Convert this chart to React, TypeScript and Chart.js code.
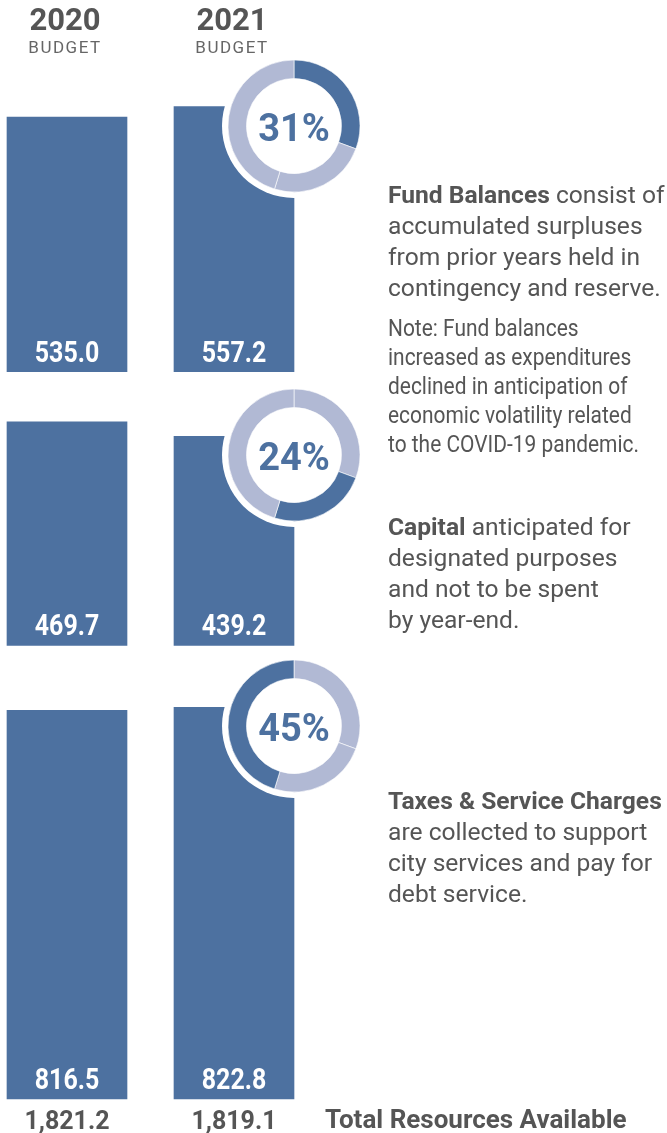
import React, { useEffect, useRef } from "react";
import { Chart, registerables } from "chart.js";

Chart.register(...registerables);

// ---- data ----
const years = ["2020", "2021"];
const rowNames = ["Taxes & Service Charges", "Capital", "Fund Balances"]; // bottom -> top
const taxes = [816.5, 822.8];
const capital = [469.7, 439.2];
const fundBalances = [535.0, 557.2];
const totals = [1821.2, 1819.1];

// ---- layout / style constants ----
const rowGaps = [130, 105]; // gap (value units) above taxes row, above capital row
const BAR = "#4d71a0";
const LIGHT = "#b1b9d4";
const GRAY = "#555555";
const W = 667;
const H = 1133;

const fundText = ["consist of", "accumulated surpluses", "from prior years held in", "contingency and reserve."];
const noteText = ["Note: Fund balances", "increased as expenditures", "declined in anticipation of", "economic volatility related", "to the COVID-19 pandemic."];
const capitalText = ["anticipated for", "designated purposes", "and not to be spent", "by year-end."];
const taxesText = ["are collected to support", "city services and pay for", "debt service."];

const rows = [taxes, capital, fundBalances];

export default function App() {
  const barRef = useRef<HTMLCanvasElement | null>(null);
  const donutWrapRefs = useRef<(HTMLDivElement | null)[]>([]);
  const donutRefs = useRef<(HTMLCanvasElement | null)[]>([]);

  useEffect(() => {
    document.body.style.margin = "0";
    const bases: number[] = [];
    let b = 0;
    rows.forEach((r, i) => {
      bases.push(b);
      b += Math.max(...r) + (rowGaps[i] ?? 0);
    });

    const valueLabels = {
      id: "valueLabels",
      afterDatasetsDraw(chart: any) {
        const ctx = chart.ctx;
        chart.data.datasets.forEach((_ds: any, di: number) => {
          const meta = chart.getDatasetMeta(di);
          meta.data.forEach((el: any, i: number) => {
            const p = el.getProps(["x", "base"], true);
            ctx.save();
            ctx.translate(p.x, p.base - 10);
            ctx.scale(0.86, 1);
            ctx.font = "bold 29px Roboto";
            ctx.fillStyle = "#ffffff";
            ctx.textAlign = "center";
            ctx.textBaseline = "alphabetic";
            ctx.fillText(rows[di][i].toFixed(1), 0, 0);
            ctx.restore();
          });
        });
      },
    };

    const bar = new Chart(barRef.current as HTMLCanvasElement, {
      type: "bar",
      data: {
        labels: years,
        datasets: rows.map((r, i) => ({
          label: rowNames[i],
          data: r.map((v) => [bases[i], bases[i] + v]),
          backgroundColor: BAR,
          borderWidth: 0,
          barThickness: 120,
          grouped: false,
          clip: false as any,
        })) as any,
      },
      options: {
        animation: false,
        responsive: true,
        maintainAspectRatio: false,
        layout: { padding: { top: 4, left: 67, right: W - 234, bottom: 0 } },
        plugins: { legend: { display: false }, tooltip: { enabled: false } },
        scales: {
          x: {
            type: "category",
            offset: false,
            grid: { display: false, drawTicks: false },
            border: { display: false },
            ticks: {
              font: { family: "Roboto", size: 25, weight: "bold" },
              color: GRAY,
              padding: 9,
              maxRotation: 0,
              autoSkip: false,
              callback: (_v: any, idx: number) =>
                totals[idx].toLocaleString("en-US", { minimumFractionDigits: 1, maximumFractionDigits: 1 }),
            },
            afterFit: (scale: any) => {
              scale.height = 34;
            },
          },
          y: { display: false, min: 0, max: 2300 },
        },
      } as any,
      plugins: [valueLabels],
    });

    // donuts positioned from the 2021 bars
    const donuts: Chart[] = [];
    const slices = [fundBalances[1], capital[1], taxes[1]]; // clockwise from top
    const sum = slices.reduce((a, c) => a + c, 0);
    rows.forEach((_r, ri) => {
      const el: any = bar.getDatasetMeta(ri).data[1];
      const cx = el.x + el.width / 2;
      const cy = el.y + 19;
      const wrap = donutWrapRefs.current[ri];
      if (!wrap) return;
      wrap.style.left = cx - 72 + "px";
      wrap.style.top = cy - 72 + "px";
      const hi = 2 - ri; // slice index to highlight
      const pct = Math.round((slices[hi] / sum) * 100);
      const centerText = {
        id: "centerText" + ri,
        afterDraw(chart: any) {
          const ctx = chart.ctx;
          const a = chart.chartArea;
          const x = (a.left + a.right) / 2;
          const y = (a.top + a.bottom) / 2;
          ctx.save();
          ctx.font = "bold 38px Roboto";
          ctx.fillStyle = BAR;
          ctx.textAlign = "center";
          ctx.textBaseline = "alphabetic";
          ctx.fillText(pct + "%", x, y + 15);
          ctx.restore();
        },
      };
      donuts.push(
        new Chart(donutRefs.current[ri] as HTMLCanvasElement, {
          type: "doughnut",
          data: {
            labels: [rowNames[2], rowNames[1], rowNames[0]],
            datasets: [
              {
                data: slices,
                backgroundColor: slices.map((_s, si) => (si === hi ? BAR : LIGHT)),
                borderColor: "rgba(255,255,255,0.6)",
                borderWidth: 1,
              },
            ],
          },
          options: {
            animation: false,
            responsive: false,
            radius: 66,
            cutout: "72%",
            layout: { padding: 0 },
            plugins: { legend: { display: false }, tooltip: { enabled: false } },
          } as any,
          plugins: [centerText],
        })
      );
    });

    return () => {
      donuts.forEach((d) => d.destroy());
      bar.destroy();
    };
  }, []);

  const block: React.CSSProperties = {
    position: "absolute",
    left: 388,
    fontFamily: "Roboto, sans-serif",
    fontSize: 24.6,
    lineHeight: "31px",
    color: GRAY,
    whiteSpace: "nowrap",
  };

  return (
    <div style={{ position: "relative", width: W, height: H, overflow: "hidden", background: "#fff", fontFamily: "Roboto, sans-serif" }}>
      <div style={{ position: "absolute", left: 0, top: 0, width: W, height: H }}>
        <canvas ref={barRef} />
      </div>

      {years.map((y, i) => (
        <div key={y} style={{ position: "absolute", left: (i === 0 ? 65 : 232) - 60, top: 3, width: 120, textAlign: "center", color: GRAY }}>
          <div style={{ fontWeight: 700, fontSize: 31, lineHeight: "34px" }}>{y}</div>
          <div style={{ fontSize: 17, letterSpacing: 1.5, lineHeight: "20px", color: "#666" }}>BUDGET</div>
        </div>
      ))}

      {[0, 1, 2].map((i) => (
        <div
          key={i}
          ref={(d) => {
            donutWrapRefs.current[i] = d;
          }}
          style={{ position: "absolute", width: 144, height: 144, borderRadius: "50%", background: "#fff" }}
        >
          <canvas
            width={144}
            height={144}
            style={{ width: 144, height: 144, display: "block" }}
            ref={(c) => {
              donutRefs.current[i] = c;
            }}
          />
        </div>
      ))}

      <div style={{ ...block, top: 179 }}>
        <div>
          <b>Fund Balances</b> {fundText[0]}
        </div>
        {fundText.slice(1).map((t) => (
          <div key={t}>{t}</div>
        ))}
      </div>

      <div style={{ ...block, top: 314, fontSize: 23, lineHeight: "29px", transform: "scaleX(0.91)", transformOrigin: "left top" }}>
        {noteText.map((t) => (
          <div key={t}>{t}</div>
        ))}
      </div>

      <div style={{ ...block, top: 511 }}>
        <div>
          <b>Capital</b> {capitalText[0]}
        </div>
        {capitalText.slice(1).map((t) => (
          <div key={t}>{t}</div>
        ))}
      </div>

      <div style={{ ...block, top: 785 }}>
        <div>
          <b>Taxes &amp; Service Charges</b>
        </div>
        {taxesText.map((t) => (
          <div key={t}>{t}</div>
        ))}
      </div>

      <div style={{ position: "absolute", left: 325, top: 1103, fontSize: 26, fontWeight: 700, color: GRAY, lineHeight: "32px", whiteSpace: "nowrap" }}>
        Total Resources Available
      </div>
    </div>
  );
}
